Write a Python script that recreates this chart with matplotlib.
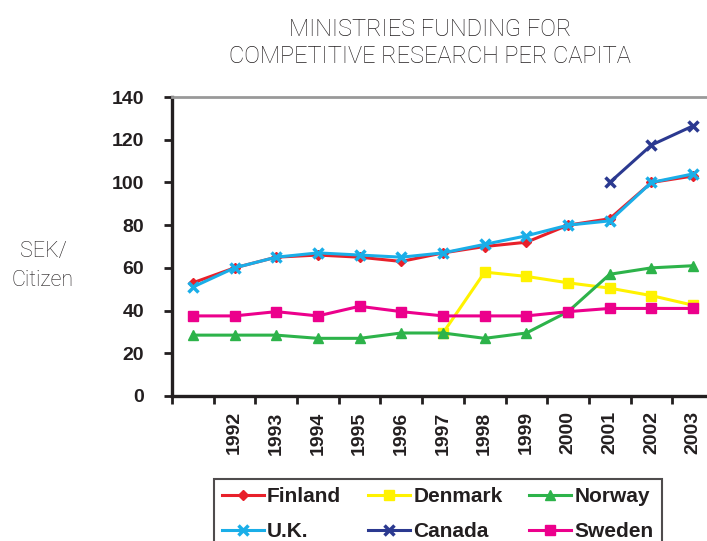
import numpy as np
import matplotlib.pyplot as plt

plt.rcParams['font.family'] = ['Liberation Sans', 'DejaVu Sans']

years = [1991, 1992, 1993, 1994, 1995, 1996, 1997, 1998, 1999, 2000, 2001, 2002, 2003]
year_labels = [''] + [str(y) for y in years[1:]]

nan = np.nan
finland = [53, 60, 65, 66, 65, 63, 67, 70, 72, 80, 83, 100, 103]
uk      = [51, 60, 65, 67, 66, 65, 67, 71, 75, 80, 82, 100, 104]
canada  = [nan, nan, nan, nan, nan, nan, nan, nan, nan, nan, 100, 117.5, 126.5]
denmark = [nan, nan, nan, nan, nan, nan, 29.5, 58, 56, 53, 50.5, 47, 42.5]
norway  = [28.5, 28.5, 28.5, 27, 27, 29.5, 29.5, 27, 29.5, 39.5, 57, 60, 61]
sweden  = [37.5, 37.5, 39.5, 37.5, 42, 39.5, 37.5, 37.5, 37.5, 39.5, 41, 41, 41]

x = np.arange(len(years))

fig = plt.figure(figsize=(7.07, 5.41), dpi=100)
ax = fig.add_axes([172/707, 1 - 396/541, (714 - 172)/707, (396 - 97)/541])

lw = 2.2
ms = 6.5
ax.plot(x, denmark, color='#FFF200', marker='s', lw=lw, ms=ms, label='Denmark', zorder=2)
ax.plot(x, norway,  color='#2DB34A', marker='^', lw=lw, ms=ms + 1, label='Norway', zorder=3)
ax.plot(x, sweden,  color='#EC008C', marker='s', lw=lw, ms=ms, label='Sweden', zorder=4)
ax.plot(x, finland, color='#E8202A', marker='D', lw=lw, ms=ms - 1, label='Finland', zorder=5)
ax.plot(x, uk,      color='#1AAEE8', marker='x', lw=lw, ms=ms + 1, mew=2.5, label='U.K.', zorder=6)
ax.plot(x, canada,  color='#2B3990', marker='x', lw=lw, ms=ms + 1, mew=2.5, label='Canada', zorder=6)

ax.set_xlim(-0.5, len(years) - 0.5)
ax.set_ylim(0, 140)
ax.set_yticks(np.arange(0, 141, 20))
ax.set_yticklabels([str(v) for v in range(0, 141, 20)], fontsize=14, fontweight='bold',
                   color='#231f20')

# ticks between categories, labels centered
ax.set_xticks(np.arange(-0.5, len(years), 1.0))
ax.set_xticklabels([])
ax.set_xticks(x, minor=True)
ax.set_xticklabels(year_labels, minor=True, rotation=90, fontsize=14, fontweight='bold',
                   color='#231f20')
ax.tick_params(axis='x', which='minor', length=0, pad=11)
ax.tick_params(axis='x', which='major', length=6, width=2, direction='out', color='#231f20')
ax.tick_params(axis='y', length=6, width=2, direction='out', pad=14, color='#231f20')

ax.spines['left'].set_linewidth(2.4)
ax.spines['bottom'].set_linewidth(2.4)
ax.spines['left'].set_color('#231f20')
ax.spines['bottom'].set_color('#231f20')
ax.spines['top'].set_color('#999999')
ax.spines['top'].set_linewidth(2)
ax.spines['right'].set_visible(False)

fig.text(430/707, 1 - 43/541, 'MINISTRIES FUNDING FOR\nCOMPETITIVE RESEARCH PER CAPITA',
         ha='center', va='center', fontsize=17, family='Roboto', fontweight='light',
         linespacing=1.2, color='#231f20')
fig.text(43/707, 1 - 266/541, 'SEK/\nCitizen', ha='center', va='center', fontsize=15.5,
         family='Roboto', fontweight='light', linespacing=1.45, color='#231f20')

h, l = ax.get_legend_handles_labels()
order = ['Finland', 'U.K.', 'Denmark', 'Canada', 'Norway', 'Sweden']
hd = dict(zip(l, h))
leg = fig.legend([hd[k] for k in order], order, loc='upper left',
                 bbox_to_anchor=(214/707, 1 - 479/541), ncol=3, frameon=True,
                 fancybox=False, edgecolor='#231f20', handlelength=2.0,
                 handletextpad=0.15, columnspacing=1.3, labelspacing=0.75,
                 borderpad=0.4, borderaxespad=0,
                 prop={'weight': 'bold', 'size': 15})
leg.get_frame().set_linewidth(1.5)
for t in leg.get_texts():
    t.set_color('#231f20')

fig.savefig('out.png', dpi=100)
